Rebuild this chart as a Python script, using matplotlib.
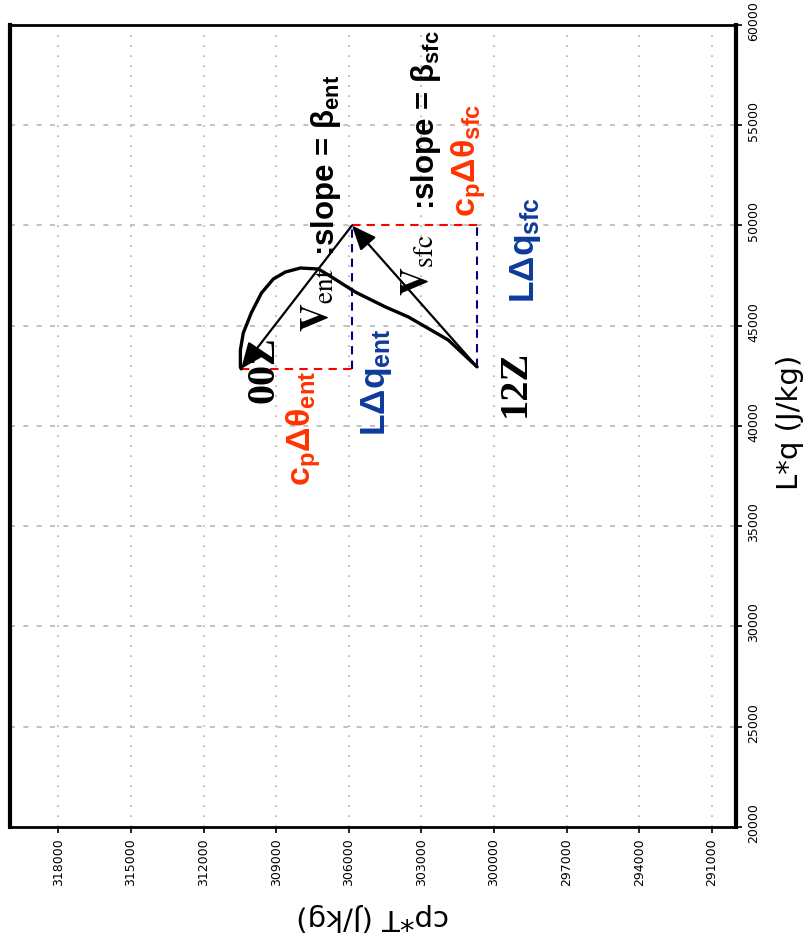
import matplotlib.pyplot as plt
from matplotlib.transforms import ScaledTranslation

plt.rcParams['mathtext.fontset'] = 'custom'
plt.rcParams['mathtext.rm'] = 'Liberation Sans:bold'
plt.rcParams['mathtext.it'] = 'Liberation Sans:bold'
plt.rcParams['mathtext.bf'] = 'Liberation Sans:bold'
plt.rcParams['mathtext.sf'] = 'Liberation Sans:bold'

# mixing diagram trajectory, 00Z -> 12Z
cpT = [310450, 310480, 310480, 310360, 310030, 309610, 309120, 308620,
       308000, 307260, 306840, 305730, 304490, 303540, 301890, 300700]
Lq = [42850, 42950, 43790, 44640, 45640, 46630, 47330, 47680,
      47880, 47830, 47530, 46680, 45940, 45440, 44290, 42950]

# corner where the entrainment and surface vectors meet
top_cpT, top_Lq = 305870, 50000

cpT_ticks = list(range(291000, 318001, 3000))
Lq_ticks = list(range(20000, 60001, 5000))

red = '#ff3300'
blue = '#0d3a9c'

fig = plt.figure(figsize=(8.09, 9.47), dpi=100)
ax = fig.add_axes([10/809, 120/947, 726/809, 802/947])

ax.set_xlim(320000, 290000)
ax.set_ylim(20000, 60000)
ax.set_xticks(cpT_ticks)
ax.set_yticks(Lq_ticks)
ax.yaxis.tick_right()
ax.tick_params(axis='both', direction='out', length=4, width=1.2, labelsize=9, pad=4)
plt.setp(ax.get_xticklabels(), rotation=90, va='top', ha='center')
plt.setp(ax.get_yticklabels(), rotation=90, va='center', ha='left')
for lab in ax.get_yticklabels():
    lab.set_transform(lab.get_transform() + ScaledTranslation(0, 4/100, fig.dpi_scale_trans))

ax.xaxis.grid(True, color='#b0b0b0', linestyle=(0, (1, 5)), lw=1.2)
ax.yaxis.grid(True, color='#b8b8b8', linestyle=(0, (3, 5)), lw=1.2)
for side in ['left', 'right']:
    ax.spines[side].set_linewidth(3)
for side in ['top', 'bottom']:
    ax.spines[side].set_linewidth(2)

ax.set_xlabel('cp*T (J/kg)', fontsize=21, rotation=180, ha='center', va='center')
ax.xaxis.set_label_coords(0.5, -0.112)
ax.yaxis.set_label_position('right')
ax.set_ylabel('L*q (J/kg)', fontsize=21, rotation=90, ha='center', va='center')
ax.yaxis.set_label_coords(1.074, 0.504)

# trajectory
ax.plot(cpT, Lq, color='black', lw=2.4, solid_capstyle='round', zorder=4)

# budget boxes
ax.plot([cpT[0], top_cpT], [Lq[0], Lq[0]], color='#ff0000', ls=(0, (4, 3)), lw=1.5)
ax.plot([top_cpT, top_cpT], [Lq[0], top_Lq], color='#000080', ls=(0, (4, 3)), lw=1.5)
ax.plot([top_cpT, cpT[-1]], [top_Lq, top_Lq], color='#ff0000', ls=(0, (4, 3)), lw=1.5)
ax.plot([cpT[-1], cpT[-1]], [Lq[-1], top_Lq], color='#000080', ls=(0, (4, 3)), lw=1.5)

arrow = dict(arrowstyle='-|>,head_length=0.6,head_width=0.25', color='black',
             lw=1.6, mutation_scale=25, shrinkA=0, shrinkB=0)
ax.annotate('', xy=(cpT[0], Lq[0]), xytext=(top_cpT, top_Lq), arrowprops=arrow, zorder=5)
ax.annotate('', xy=(top_cpT, top_Lq), xytext=(cpT[-1], Lq[-1]), arrowprops=arrow, zorder=5)

serif = dict(family='Liberation Serif', weight='bold', rotation=90, ha='center', va='center')
sans = dict(family='Liberation Sans', weight='bold', rotation=90, ha='center', va='center')

ax.text(309490, 42800, '00Z', fontsize=29, **serif)
ax.text(299120, 42150, '12Z', fontsize=29, **serif)

ax.text(307260, 46280, r'$\mathbf{V}_{\mathrm{ent}}$', fontsize=28, math_fontfamily='stix',
        rotation=90, ha='center', va='center')
ax.text(303130, 48030, r'$\mathbf{V}_{\mathrm{sfc}}$', fontsize=28, math_fontfamily='stix',
        rotation=90, ha='center', va='center')

ax.text(306930, 53000, r':slope = $\beta_{ent}$', fontsize=22.5, color='black', **sans)
ax.text(302800, 55260, r':slope = $\beta_{sfc}$', fontsize=22.5, color='black', **sans)

ax.text(307880, 39900, r'c$_p$Δθ$_{ent}$', fontsize=24.5, color=red, **sans)
ax.text(301060, 53270, r'c$_p$Δθ$_{sfc}$', fontsize=24.5, color=red, **sans)
ax.text(304860, 42190, r'LΔq$_{ent}$', fontsize=25.5, color=blue, **sans)
ax.text(298700, 48780, r'LΔq$_{sfc}$', fontsize=25.5, color=blue, **sans)

fig.savefig('out.png', dpi=100)
